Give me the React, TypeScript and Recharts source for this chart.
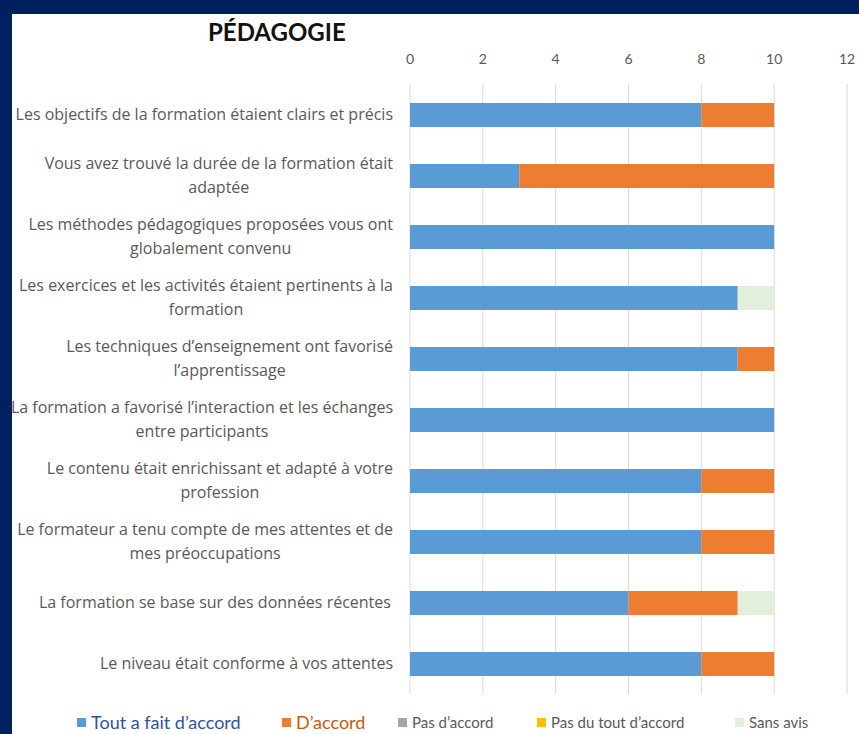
import React from 'react';
import { BarChart, Bar, XAxis, YAxis, CartesianGrid } from 'recharts';

const categories = [
  "Les objectifs de la formation étaient clairs et précis",
  "Vous avez trouvé la durée de la formation était adaptée",
  "Les méthodes pédagogiques proposées vous ont globalement convenu",
  "Les exercices et les activités étaient pertinents à la formation",
  "Les techniques d’enseignement ont favorisé l’apprentissage",
  "La formation a favorisé l’interaction et les échanges entre participants",
  "Le contenu était enrichissant et adapté à votre profession",
  "Le formateur a tenu compte de mes attentes et de mes préoccupations",
  "La formation se base sur des données récentes ",
  "Le niveau était conforme à vos attentes",
];

const toutAFait = [8, 3, 10, 9, 9, 10, 8, 8, 6, 8];
const dAccord = [2, 7, 0, 0, 1, 0, 2, 2, 3, 2];
const pasDAccord = [0, 0, 0, 0, 0, 0, 0, 0, 0, 0];
const pasDuTout = [0, 0, 0, 0, 0, 0, 0, 0, 0, 0];
const sansAvis = [0, 0, 0, 1, 0, 0, 0, 0, 1, 0];

const xTicks = [0, 2, 4, 6, 8, 10, 12];

const series = [
  { key: 'tout', name: 'Tout a fait d’accord', values: toutAFait, color: '#5b9bd5', text: '#2f5597', size: 18 },
  { key: 'accord', name: 'D’accord', values: dAccord, color: '#ed7d31', text: '#c55a11', size: 18 },
  { key: 'pas', name: 'Pas d’accord', values: pasDAccord, color: '#a5a5a5', text: '#595959', size: 15 },
  { key: 'pasdutout', name: 'Pas du tout d’accord', values: pasDuTout, color: '#ffc000', text: '#595959', size: 15 },
  { key: 'sans', name: 'Sans avis', values: sansAvis, color: '#e2efda', text: '#595959', size: 15 },
];

const data = categories.map((c, i) => {
  const row: any = { name: c };
  series.forEach((s) => (row[s.key] = s.values[i]));
  return row;
});

const FONT = 'Lato, "Open Sans", sans-serif';
const LABEL_FONT = '"Open Sans", sans-serif';
const LABEL_FONT_SIZE = 16;

let ctx: CanvasRenderingContext2D | null = null;
const measure = (t: string) => {
  if (!ctx) ctx = document.createElement('canvas').getContext('2d');
  if (!ctx) return t.length * 8;
  ctx.font = `${LABEL_FONT_SIZE}px "Open Sans"`;
  return ctx.measureText(t).width;
};

const wrap = (text: string, maxW: number) => {
  const words = text.split(' ');
  const lines: string[] = [];
  let cur = '';
  words.forEach((w) => {
    const next = cur ? cur + ' ' + w : w;
    if (measure(next.trim()) > maxW && cur) {
      lines.push(cur);
      cur = w;
    } else cur = next;
  });
  if (cur) lines.push(cur);
  return lines;
};

const CatTick = (props: any) => {
  const { x, y, payload } = props;
  const lines = wrap(payload.value, 398);
  const maxW = Math.max(...lines.map((l) => measure(l)));
  const cx = x - maxW / 2;
  const lh = 24;
  const y0 = y - ((lines.length - 1) * lh) / 2;
  return (
    <g>
      {lines.map((l, i) => (
        <text key={i} x={cx} y={y0 + i * lh} dy="0.35em" textAnchor="middle"
          fontFamily={LABEL_FONT} fontSize={LABEL_FONT_SIZE} fill="#595959">
          {l}
        </text>
      ))}
    </g>
  );
};

export default function App() {
  return (
    <div style={{ position: 'absolute', left: 0, top: 0, width: 859, height: 734, background: '#002060', overflow: 'hidden' }}>
      <div style={{ position: 'absolute', left: 12, top: 14, width: 847, height: 720, background: '#ffffff', overflow: 'hidden' }}>
        <div style={{ position: 'absolute', left: 196, top: 3, fontFamily: FONT, fontWeight: 700, fontSize: 24, color: '#111' }}>
          PÉDAGOGIE
        </div>
        <BarChart width={847} height={720} data={data} layout="vertical"
          margin={{ top: 40, right: 12, bottom: 40, left: 0 }} barSize={24}>
          <CartesianGrid horizontal={false} stroke="#d9d9d9" />
          <XAxis type="number" orientation="top" domain={[0, 12]} ticks={xTicks} height={30}
            axisLine={false} tickLine={false} tickMargin={14}
            tick={{ fontFamily: FONT, fontSize: 14, fill: '#595959' }} />
          <YAxis type="category" dataKey="name" width={398} axisLine={false} tickLine={false}
            tickMargin={11} tick={<CatTick />} interval={0} />
          {series.map((s) => (
            <Bar key={s.key} dataKey={s.key} name={s.name} stackId="a" fill={s.color} isAnimationActive={false} />
          ))}
        </BarChart>
        <div style={{ position: 'absolute', left: 0, top: 697, width: 847, fontFamily: FONT }}>
          {series.map((s, i) => {
            const lefts = [65, 270, 386, 525, 723];
            return (
              <div key={s.key} style={{ position: 'absolute', left: lefts[i], top: 0, height: 22, display: 'flex', alignItems: 'center', whiteSpace: 'nowrap', lineHeight: '22px' }}>
                <span style={{ display: 'inline-block', width: 9, height: 9, background: s.color, marginRight: 5 }} />
                <span style={{ fontSize: s.size, color: s.text }}>{s.name}</span>
              </div>
            );
          })}
        </div>
      </div>
    </div>
  );
}
